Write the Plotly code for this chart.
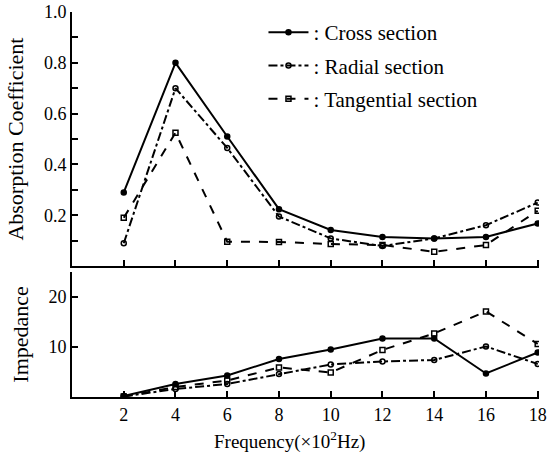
import plotly.graph_objects as go

freq = [2, 4, 6, 8, 10, 12, 14, 16, 18]

# Absorption coefficient
abs_cross = [0.29, 0.80, 0.51, 0.224, 0.142, 0.115, 0.109, 0.115, 0.168]
abs_radial = [0.09, 0.70, 0.465, 0.195, 0.109, 0.079, 0.109, 0.161, 0.25]
abs_tang = [0.19, 0.525, 0.096, 0.095, 0.087, 0.083, 0.056, 0.083, 0.218]

# Impedance
imp_cross = [0.2, 2.6, 4.3, 7.6, 9.5, 11.7, 11.7, 4.7, 8.9]
imp_radial = [0.1, 1.6, 2.6, 4.6, 6.5, 7.1, 7.4, 10.1, 6.6]
imp_tang = [0.1, 2.0, 3.3, 5.9, 4.9, 9.4, 12.7, 17.1, 10.6]

names = [": Cross section", ": Radial section", ": Tangential section"]
abs_tick_vals = [0.2, 0.4, 0.6, 0.8, 1.0]
abs_tick_text = ["0.2", "0.4", "0.6", "0.8", "1.0"]
imp_tick_vals = [10, 20]
imp_tick_text = ["10", "20"]
x_title = "Frequency(×10<sup>2</sup>Hz)"

FONT = "Liberation Serif, Times New Roman, serif"
dashes = ["solid", "dashdot", "dash"]
symbols = ["circle", "circle-open", "square-open"]

fig = go.Figure()
for i, (ya, yb) in enumerate([(abs_cross, imp_cross), (abs_radial, imp_radial), (abs_tang, imp_tang)]):
    fig.add_trace(go.Scatter(
        x=freq, y=ya, mode="lines+markers", name=names[i], legendgroup=str(i),
        line=dict(color="black", width=2, dash=dashes[i]),
        marker=dict(symbol=symbols[i], size=5, color="black", line=dict(color="black", width=1.5)),
        xaxis="x", yaxis="y"))
    fig.add_trace(go.Scatter(
        x=freq, y=yb, mode="lines+markers", name=names[i], legendgroup=str(i), showlegend=False,
        line=dict(color="black", width=2, dash=dashes[i]),
        marker=dict(symbol=symbols[i], size=5, color="black", line=dict(color="black", width=1.5)),
        xaxis="x2", yaxis="y2"))

axis_common = dict(showline=True, linecolor="black", linewidth=2, ticks="inside",
                   tickcolor="black", tickwidth=2, ticklen=6, showgrid=False, zeroline=False,
                   automargin=False,
                   tickfont=dict(family=FONT, size=18, color="black"))

fig.update_layout(
    width=549, height=463,
    margin=dict(l=72, r=10, t=12, b=66),
    paper_bgcolor="white", plot_bgcolor="white",
    font=dict(family=FONT, color="black"),
    xaxis=dict(domain=[0, 1], anchor="y", range=[0, 18.05], tickvals=freq,
               showticklabels=False, **axis_common),
    yaxis=dict(domain=[0.34, 1], anchor="x", range=[0, 1.0], tickvals=abs_tick_vals,
               ticktext=abs_tick_text,
               minor=dict(ticks="inside", dtick=0.1, tick0=0, ticklen=6, tickwidth=2, tickcolor="black"),
               title=dict(text="Absorption Coefficient", font=dict(family=FONT, size=22), standoff=14),
               **axis_common),
    xaxis2=dict(domain=[0, 1], anchor="y2", range=[0, 18.05], tickvals=freq,
                **axis_common),
    yaxis2=dict(domain=[0, 0.325], anchor="x2", range=[0, 25], tickvals=imp_tick_vals,
                ticktext=imp_tick_text,
                title=dict(text="Impedance", font=dict(family=FONT, size=22), standoff=14),
                **axis_common),
    legend=dict(x=0.41, y=1.0, xanchor="left", yanchor="top", bgcolor="rgba(0,0,0,0)",
                font=dict(family=FONT, size=21, color="black"), tracegroupgap=3,
                itemwidth=40),
    showlegend=True,
    annotations=[dict(text=x_title, xref="paper", yref="paper", x=0.465, y=-0.112,
                      xanchor="center", yanchor="middle", showarrow=False,
                      font=dict(family=FONT, size=19, color="black"))],
)

fig.write_html("out.html", config={"displayModeBar": False},
               post_script="document.body.style.margin='0';document.body.style.overflow='hidden';")
